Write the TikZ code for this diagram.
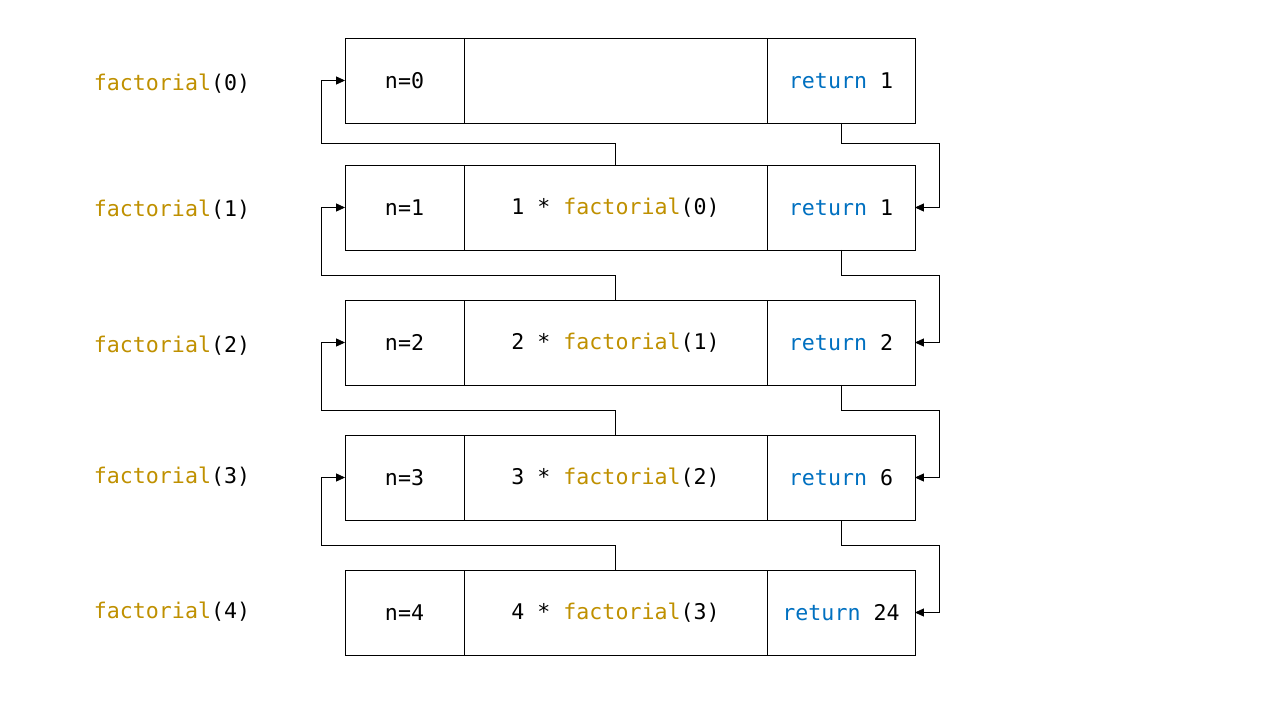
\documentclass[tikz,border=0pt]{standalone}
\usepackage{fontspec}
\setmonofont{DejaVu Sans Mono}
\usetikzlibrary{arrows.meta}
\definecolor{factgold}{HTML}{BF9000}
\definecolor{retblue}{HTML}{0070C0}
\newcommand{\kwfact}{\textcolor{factgold}{factorial}}
\newcommand{\kwret}{\textcolor{retblue}{return}}
\tikzset{every node/.style={font=\ttfamily\fontsize{12.3}{14}\selectfont, inner sep=0pt, outer sep=0pt},
  cell/.style={draw, line width=0.5pt, minimum height=1.7cm},
  ncell/.style={cell, minimum width=2.38cm},
  mcell/.style={cell, minimum width=6.06cm},
  rcell/.style={cell, minimum width=2.96cm},
  link/.style={line width=0.45pt, -{Triangle[length=5pt,width=4.5pt]}}}

\begin{document}
\begin{tikzpicture}[x=0.02cm,y=-0.02cm]
  \useasboundingbox (0,0) rectangle (1280,720);
  % call labels
  \node (fact0) at (172, 84) {\kwfact(0)};
  \node (fact1) at (172,210) {\kwfact(1)};
  \node (fact2) at (172,346) {\kwfact(2)};
  \node (fact3) at (172,477) {\kwfact(3)};
  \node (fact4) at (172,612) {\kwfact(4)};
  % stack frames
  \node[ncell] (n0) at (404.5, 80.5) {n=0};
  \node[mcell] (m0) at (615.5, 80.5) {};
  \node[rcell] (r0) at (841.0, 80.5) {\kwret{} 1};
  \node[ncell] (n1) at (404.5,207.5) {n=1};
  \node[mcell] (m1) at (615.5,207.5) {1 * \kwfact(0)};
  \node[rcell] (r1) at (841.0,207.5) {\kwret{} 1};
  \node[ncell] (n2) at (404.5,342.5) {n=2};
  \node[mcell] (m2) at (615.5,342.5) {2 * \kwfact(1)};
  \node[rcell] (r2) at (841.0,342.5) {\kwret{} 2};
  \node[ncell] (n3) at (404.5,477.5) {n=3};
  \node[mcell] (m3) at (615.5,477.5) {3 * \kwfact(2)};
  \node[rcell] (r3) at (841.0,477.5) {\kwret{} 6};
  \node[ncell] (n4) at (404.5,612.5) {n=4};
  \node[mcell] (m4) at (615.5,612.5) {4 * \kwfact(3)};
  \node[rcell] (r4) at (841.0,612.5) {\kwret{} 24};
  % bends between frames
  \coordinate (call1) at (321,143); \coordinate (back1) at (939,143);
  \coordinate (call2) at (321,275); \coordinate (back2) at (939,275);
  \coordinate (call3) at (321,410); \coordinate (back3) at (939,410);
  \coordinate (call4) at (321,545); \coordinate (back4) at (939,545);
  % calls go up, results come down
  \draw[link] (m1.north) |- (call1) |- (n0.west);
  \draw[link] (m2.north) |- (call2) |- (n1.west);
  \draw[link] (m3.north) |- (call3) |- (n2.west);
  \draw[link] (m4.north) |- (call4) |- (n3.west);
  \draw[link] (r0.south) |- (back1) |- (r1.east);
  \draw[link] (r1.south) |- (back2) |- (r2.east);
  \draw[link] (r2.south) |- (back3) |- (r3.east);
  \draw[link] (r3.south) |- (back4) |- (r4.east);
\end{tikzpicture}
\end{document}
